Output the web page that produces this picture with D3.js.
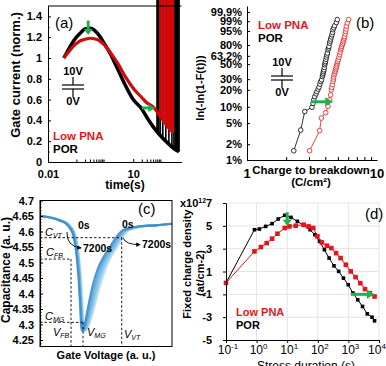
<!DOCTYPE html>
<html><head><meta charset="utf-8">
<script src="https://cdn.jsdelivr.net/npm/d3@7"></script>
<style>
body{margin:0;background:#fff}
svg{display:block}
text{font-family:"Liberation Sans",Arial,sans-serif}
.ax path,.ax line{stroke:#000;stroke-width:1}
.ax text{font-weight:bold;font-size:11px;fill:#000;font-family:"Liberation Sans",Arial,sans-serif}
</style></head>
<body><svg id="fig" width="386" height="366"></svg>
<script>
// ---------------- Panel (a): gate current vs time ----------------
const aTime = [0.036,0.05,0.07,0.1,0.15,0.2,0.3,0.5,0.7,1,1.5,2,3,5,10,20,30,50,100,200,300,410];
const aPOR  = [1.0,1.07,1.14,1.2,1.25,1.28,1.285,1.25,1.2,1.13,1.05,0.98,0.88,0.75,0.6,0.51,0.43,0.34,0.24,0.16,0.12,0.1];
const aLowTime = [0.036,0.05,0.07,0.1,0.15,0.2,0.3,0.5,0.7,1,1.5,2,3,5,10,20,30,50,100,200,255];
const aLow  = [1.0,1.05,1.1,1.14,1.17,1.18,1.19,1.18,1.16,1.12,1.06,1.01,0.94,0.83,0.71,0.62,0.57,0.53,0.42,0.31,0.28];
const aPORbreak = [69,72,76,80,90,110,140,180,230,270,300,330,360,390,410];
const aLowBreak = [87,95,103,112,122,133,145,158,172,187,204,222,242,255];
const aYTicks = [0,0.2,0.4,0.6,0.8,1,1.2,1.4];
const aYLabels = ["0","0.2","0.4","0.6","0.8","1","1.2","1.4"];
const aXTicks = [0.01,10];
const aXLabels = ["0.01","10"];

// ---------------- Panel (b): Weibull plot ----------------
const bPORq = [2.29,2.59,2.78,3.16,3.22,3.26,3.32,3.40,3.45,3.52,3.58,3.64,3.69,3.75,3.80,3.83,3.85,3.88,3.91,3.94,3.96,3.99,4.01,4.05,4.08,4.12,4.15,4.20,4.24,4.27,4.32,4.36,4.40,4.45,4.51,4.55,4.59,4.65,4.72,4.87,4.95];
const bPORf = [1.5,3.7,8.2,9.8,11.5,13.3,15.2,17,18.6,20.5,22.2,25,27.5,29.3,33,35,37.2,39.5,41.7,45,49,51.5,54,57.5,61.2,64.5,67.7,72.9,75.5,78,82.7,85.3,87.7,90,92.1,94,95.8,96.8,97.7,98.7,99.3];
const bLowQ = [3.03,3.62,3.73,4.03,4.20,4.32,4.40,4.45,4.49,4.53,4.59,4.62,4.64,4.68,4.72,4.77,4.81,4.84,4.87,4.91,4.95,4.99,5.04,5.10,5.16,5.21,5.26,5.31,5.35,5.41,5.47,5.51,5.55,5.60,5.64,5.69,5.74,5.78,5.81,5.91,6.05];
const bLowF = [1.5,3.6,6.2,7.8,10.1,13.3,16.3,19.9,22,24.3,27.5,30,32.3,35,37.2,39.5,41.7,44,46.4,49,51.6,54,56.8,61,64.9,69,72.9,75.5,78,80.5,82.7,85,86.9,88.8,90.5,92.8,94.7,96.2,97.5,98.6,99.3];
const bYTicks = [99.9,99,95,80,63.2,50,30,20,10,5,2,1];
const bYLabels = ["99,9%","99%","95%","80%","63,2%","50%","30%","20%","10%","5%","2%","1%"];

// ---------------- Panel (c): C-V curves ----------------
const cStress = ["0s","600s","1800s","3600s","7200s"];
const cLevels = [4.650,4.645,4.635,4.625,4.610,4.590,4.560,4.510,4.450,4.370,4.300,4.280,4.290,4.320,4.370,4.430,4.480,4.520,4.550,4.580,4.600,4.610,4.617,4.620,4.625];
const cV0    = [0,7.6,15.2,19.7,22.7,25.0,26.5,28.0,29.2,30.3,31.1,31.8,33.3,34.8,37.1,40.2,43.9,48.5,53.0,57.6,61.4,66.7,75.8,87.0,100];
const cV600  = [0,7.8,15.6,20.2,23.2,25.5,27.0,28.5,29.7,30.8,31.6,32.4,34.0,35.8,38.4,41.7,45.5,50.0,54.5,59.0,62.8,68.0,76.8,87.6,100];
const cV1800 = [0,8.0,16.0,20.7,23.7,26.0,27.5,29.0,30.2,31.3,32.1,33.0,34.8,36.8,39.7,43.2,47.0,51.5,56.0,60.3,64.0,69.2,77.6,88.1,100];
const cV3600 = [0,8.2,16.4,21.1,24.1,26.4,27.9,29.4,30.6,31.7,32.5,33.5,35.5,37.7,40.8,44.5,48.4,52.8,57.2,61.4,65.0,70.2,78.4,88.6,100];
const cV7200 = [0,8.4,16.8,21.5,24.5,26.8,28.3,29.8,31.0,32.1,33.0,34.0,36.3,38.7,42.0,45.8,49.7,54.0,58.3,62.4,66.0,71.2,79.2,89.0,100];
const cYTicks = [4.25,4.3,4.35,4.4,4.45,4.5,4.55,4.6,4.65,4.7];
const cYLabels = ["4.25","4.3","4.35","4.4","4.45","4.5","4.55","4.6","4.65","4.7"];
const cMarks = {VFB:23.5, CFB:4.511, VMG:32.6, CMG:4.307, VVT:61.9, CVT:4.58};

// ---------------- Panel (d): fixed charge density ----------------
const dPORt = [0.1,0.85,1.23,1.98,3.2,5.1,8.3,13.3,21.5,34.5,56,80,114,164,234,337,481,690,985,1410,2020,2890,4140,5920,7160];
const dPOR  = [0,4.66,4.72,4.95,5.19,5.6,5.92,5.74,5.39,5.04,4.66,4.22,3.64,2.91,2.18,1.5,1.01,0.42,-0.16,-0.89,-1.48,-2.06,-2.71,-3.0,-3.32];
const dLowt = [0.1,0.85,1.38,2.14,3.2,4.8,8.3,11.8,19,34.5,50,71,97,135,198,277,396,555,825,1190,1710,2450,3490,4980,7160];
const dLow  = [0,2.76,3.14,3.49,3.87,4.31,4.81,4.95,5.01,5.1,4.95,4.81,4.08,3.55,3.26,3.05,2.61,2.18,1.59,1.01,0.51,-0.02,-0.54,-0.89,-1.19];
const dYTicks = [-5,-3,-1,1,3,5,7];
const dYLabels = ["-5","-3","-1","1","3","5","7"];
const dXExp = [-1,0,1,2,3,4];

const RED = "#e3151b", GREEN = "#1fb04f";
const svg = d3.select("#fig");

function arrowH(g, x1, x2, y, w, hl, hw){
  const dir = x2 > x1 ? 1 : -1;
  g.append("line").attr("x1",x1).attr("x2",x2-dir*hl*0.8).attr("y1",y).attr("y2",y)
    .attr("stroke",GREEN).attr("stroke-width",w);
  g.append("path").attr("d",`M${x2},${y}L${x2-dir*hl},${y-hw}L${x2-dir*hl},${y+hw}Z`).attr("fill",GREEN);
}
function arrowV(g, x, y1, y2, w, hl, hw){
  g.append("line").attr("x1",x).attr("x2",x).attr("y1",y1).attr("y2",y2-hl*0.8)
    .attr("stroke",GREEN).attr("stroke-width",w);
  g.append("path").attr("d",`M${x},${y2}L${x-hw},${y2-hl}L${x+hw},${y2-hl}Z`).attr("fill",GREEN);
}
function capacitor(g, cx, yTop){
  g.append("text").attr("x",cx).attr("y",yTop).attr("text-anchor","middle")
    .attr("font-size",11).attr("font-weight","bold").text("10V");
  const l = (x1,y1,x2,y2)=>g.append("line").attr("x1",x1).attr("y1",y1).attr("x2",x2).attr("y2",y2).attr("stroke","#000").attr("stroke-width",1.2);
  l(cx,yTop+2,cx,yTop+10); l(cx-11,yTop+10,cx+11,yTop+10); l(cx-11,yTop+14,cx+11,yTop+14); l(cx,yTop+14,cx,yTop+22);
  g.append("text").attr("x",cx).attr("y",yTop+30).attr("text-anchor","middle")
    .attr("font-size",11).attr("font-weight","bold").text("0V");
}
function legend(g, x, y1, y2, fs){
  g.append("text").attr("x",x).attr("y",y1).attr("font-size",fs).attr("font-weight","bold").attr("fill",RED).text("Low PNA");
  g.append("text").attr("x",x).attr("y",y2).attr("font-size",fs).attr("font-weight","bold").attr("fill","#000").text("POR");
}
function panelLabel(g, x, y, s){
  g.append("text").attr("x",x).attr("y",y).attr("font-family","'Liberation Serif','Times New Roman',serif")
    .attr("font-size",15).text(s);
}

// ======== Panel (a) ========
{
  const g = svg.append("g");
  const x = d3.scaleLog().domain([0.01,500]).range([48,181.5]);
  const y = d3.scaleLinear().domain([0,1.5]).range([162,6]);
  const interp = (ts, vs, t) => {
    for (let i=1;i<ts.length;i++) if (t<=ts[i]) {
      const f=(Math.log(t)-Math.log(ts[i-1]))/(Math.log(ts[i])-Math.log(ts[i-1]));
      return vs[i-1]+f*(vs[i]-vs[i-1]);
    }
    return vs[vs.length-1];
  };
  const line = d3.line().x(d=>x(d[0])).y(d=>y(d[1])).curve(d3.curveMonotoneX);
  g.append("path").attr("d",line(aTime.map((t,i)=>[t,aPOR[i]]))).attr("fill","none").attr("stroke","#000").attr("stroke-width",3.5);
  aPORbreak.forEach(tb=>{
    g.append("line").attr("x1",x(tb)).attr("x2",x(tb)).attr("y1",y(interp(aTime,aPOR,tb))).attr("y2",0)
      .attr("stroke","#000").attr("stroke-width",1.6);
  });
  g.append("path").attr("d",line(aLowTime.map((t,i)=>[t,aLow[i]]))).attr("fill","none").attr("stroke","#d10a0a").attr("stroke-width",3.2);
  aLowBreak.forEach(tb=>{
    g.append("line").attr("x1",x(tb)).attr("x2",x(tb)).attr("y1",y(interp(aLowTime,aLow,tb))).attr("y2",0)
      .attr("stroke","#d10a0a").attr("stroke-width",1.6);
  });
  g.append("line").attr("x1",48).attr("x2",181.5).attr("y1",6).attr("y2",6).attr("stroke","#000");
  g.append("g").attr("class","ax").attr("transform","translate(48,0)")
    .call(d3.axisLeft(y).tickValues(aYTicks).tickFormat((d,i)=>aYLabels[i]).tickSize(-3).tickSizeOuter(0).tickPadding(6));
  g.append("g").attr("class","ax").attr("transform","translate(48,0)")
    .call(d3.axisLeft(y).tickValues(d3.range(0.1,1.5,0.2)).tickFormat("").tickSize(-1.5).tickSizeOuter(0));
  g.append("g").attr("class","ax").attr("transform","translate(0,162)")
    .call(d3.axisBottom(x).tickValues(aXTicks).tickFormat((d,i)=>aXLabels[i]).tickSize(-3).tickSizeOuter(0).tickPadding(8));
  g.append("g").attr("class","ax").attr("transform","translate(0,162)")
    .call(d3.axisBottom(x).tickValues([0.1,0.2,0.3,0.4,0.5,0.6,0.7,0.8,0.9,20,30,40,50,60,70,80,90]).tickFormat("").tickSize(-2.5).tickSizeOuter(0));
  g.append("text").attr("x",125).attr("y",189).attr("text-anchor","middle").attr("font-size",12).attr("font-weight","bold").text("time(s)");
  g.append("text").attr("transform","translate(15,75) rotate(-90)").attr("text-anchor","middle").attr("dominant-baseline","central")
    .attr("font-size",13).attr("font-weight","bold").text("Gate current (norm.)");
  panelLabel(g, 55, 28, "(a)");
  capacitor(g, 73, 75);
  legend(g, 53, 140, 153, 11.5);
  arrowV(g, x(0.26), y(1.36), y(1.22), 3, 6, 4.5);
  arrowH(g, x(20), x(60), y(0.52), 3, 7, 4);
}

// ======== Panel (b) ========
{
  const g = svg.append("g");
  const W = F => Math.log(-Math.log(1-F/100));
  const x = d3.scaleLog().domain([1,10]).range([247,377]);
  const y = d3.scaleLinear().domain([-4.6,2.2]).range([160,6]);
  const line = d3.line().x(d=>x(d[0])).y(d=>y(W(d[1])));
  const por = bPORq.map((q,i)=>[q,bPORf[i]]);
  const low = bLowQ.map((q,i)=>[q,bLowF[i]]);
  g.append("path").attr("d",line(por)).attr("fill","none").attr("stroke","#000").attr("stroke-width",0.8);
  g.append("path").attr("d",line(low)).attr("fill","none").attr("stroke",RED).attr("stroke-width",0.8);
  g.selectAll(".cp").data(por).join("circle").attr("cx",d=>x(d[0])).attr("cy",d=>y(W(d[1]))).attr("r",2.3)
    .attr("fill","#fff").attr("stroke","#000").attr("stroke-width",0.8);
  g.selectAll(".cl").data(low).join("circle").attr("cx",d=>x(d[0])).attr("cy",d=>y(W(d[1]))).attr("r",2.3)
    .attr("fill","#fff").attr("stroke",RED).attr("stroke-width",0.8);
  g.append("g").attr("class","ax").attr("transform","translate(247,0)")
    .call(d3.axisLeft(y).tickValues(bYTicks.map(W)).tickFormat((d,i)=>bYLabels[i]).tickSize(-3).tickSizeOuter(0).tickPadding(5))
    .call(s=>s.selectAll("text").attr("font-size",10.5));
  g.append("g").attr("class","ax").attr("transform","translate(0,160)")
    .call(d3.axisBottom(x).tickValues([2,3,4,5,6,7,8,9]).tickFormat("").tickSize(-3).tickSizeOuter(0));
  g.selectAll(".bx").data([1,10]).join("text").attr("x",d=>x(d)).attr("y",178).attr("text-anchor","middle")
    .attr("font-size",13).attr("font-weight","bold").text(d=>String(d));
  g.append("text").attr("x",311).attr("y",174).attr("text-anchor","middle").attr("font-size",11.5).attr("font-weight","bold").text("Charge to breakdown");
  g.append("text").attr("x",311).attr("y",186).attr("text-anchor","middle").attr("font-size",11.5).attr("font-weight","bold").text("(C/cm²)");
  g.append("text").attr("transform","translate(200,88) rotate(-90)").attr("text-anchor","middle").attr("dominant-baseline","central")
    .attr("font-size",11).attr("font-weight","bold").text("ln(-ln(1-F(t)))");
  panelLabel(g, 356, 28, "(b)");
  capacitor(g, 282, 66);
  legend(g, 258, 28.5, 41.5, 11.5);
  arrowH(g, x(3.1), x(4.6), y(W(12.3)), 3, 8, 4.5);
}

// ======== Panel (c) ========
{
  const g = svg.append("g");
  const x = d3.scaleLinear().domain([0,100]).range([40,172]);
  const y = d3.scaleLinear().domain([4.229,4.7]).range([346.5,200.5]);
  const line = d3.line().x(d=>x(d[0])).y(d=>y(d[1])).curve(d3.curveMonotoneX);
  const sets = [cV7200,cV3600,cV1800,cV600,cV0];
  const cols = ["#b8def4","#96cdee","#79bbe5","#5aa6da","#3c8ccb"];
  sets.forEach((vs,k)=>{
    g.append("path").attr("d",line(vs.map((v,i)=>[v,cLevels[i]]))).attr("fill","none")
      .attr("stroke",cols[k]).attr("stroke-width",2.2).attr("stroke-opacity",0.9);
  });
  const dash = (x1,y1,x2,y2)=>g.append("line").attr("x1",x1).attr("y1",y1).attr("x2",x2).attr("y2",y2)
    .attr("stroke","#000").attr("stroke-width",0.9).attr("stroke-dasharray","2.5,2");
  dash(x(0),y(cMarks.CVT),x(cMarks.VVT),y(cMarks.CVT)); dash(x(cMarks.VVT),y(cMarks.CVT),x(cMarks.VVT),346.5);
  dash(x(0),y(cMarks.CFB),x(cMarks.VFB),y(cMarks.CFB)); dash(x(cMarks.VFB),y(cMarks.CFB),x(cMarks.VFB),346.5);
  dash(x(0),y(cMarks.CMG),x(cMarks.VMG),y(cMarks.CMG)); dash(x(cMarks.VMG),y(cMarks.CMG),x(cMarks.VMG),346.5);
  g.append("rect").attr("x",40).attr("y",200.5).attr("width",132).attr("height",146).attr("fill","none").attr("stroke","#000");
  g.append("g").attr("class","ax").attr("transform","translate(40,0)")
    .call(d3.axisLeft(y).tickValues(cYTicks).tickFormat((d,i)=>cYLabels[i]).tickSize(-3).tickSizeOuter(0).tickPadding(6))
    .call(s=>s.selectAll("text").attr("font-size",10.5));
  g.append("g").attr("class","ax").attr("transform","translate(40,0)")
    .call(d3.axisLeft(y).tickValues(d3.range(4.23,4.7,0.01)).tickFormat("").tickSize(-1.5).tickSizeOuter(0));
  const serif = "'Liberation Serif','Times New Roman',serif";
  const sym = (xp, yp, main, sub) => {
    const t = g.append("text").attr("x",xp).attr("y",yp).attr("font-family",serif).attr("font-style","italic").attr("font-size",11);
    t.append("tspan").text(main);
    t.append("tspan").attr("dy",2).attr("font-size",7).text(sub);
  };
  sym(45,236,"C","VT"); sym(46,256,"C","FB"); sym(45,319.5,"C","MG");
  sym(53,336,"V","FB"); sym(87,336,"V","MG"); sym(124,338,"V","VT");
  const bt = (xp,yp,s)=>g.append("text").attr("x",xp).attr("y",yp).attr("font-size",10.5).attr("font-weight","bold").text(s);
  bt(78,229,"0s"); bt(122,228,"0s"); bt(83,252,"7200s"); bt(142,248,"7200s");
  svg.append("defs").append("marker").attr("id","ah").attr("viewBox","0 0 6 6").attr("refX",5).attr("refY",3)
    .attr("markerWidth",5).attr("markerHeight",5).attr("orient","auto")
    .append("path").attr("d","M0,0L6,3L0,6Z").attr("fill","#000");
  g.append("path").attr("d","M67,232 Q66,246 81,248").attr("fill","none").attr("stroke","#000").attr("stroke-width",0.9).attr("marker-end","url(#ah)");
  g.append("path").attr("d","M123,238 Q126,245 140,244.5").attr("fill","none").attr("stroke","#000").attr("stroke-width",0.9).attr("marker-end","url(#ah)");
  panelLabel(g, 138, 214, "(c)");
  g.append("text").attr("x",106).attr("y",359).attr("text-anchor","middle").attr("font-size",11).attr("font-weight","bold").text("Gate Voltage (a. u.)");
  g.append("text").attr("transform","translate(6,270) rotate(-90)").attr("text-anchor","middle").attr("dominant-baseline","central")
    .attr("font-size",12).attr("font-weight","bold").text("Capacitance (a. u.)");
}

// ======== Panel (d) ========
{
  const g = svg.append("g");
  const x = d3.scaleLog().domain([0.1,10000]).range([226,379]);
  const y = d3.scaleLinear().domain([-5,7]).range([340,203]);
  g.selectAll(".gv").data(dXExp.slice(1)).join("line").attr("x1",d=>x(Math.pow(10,d))).attr("x2",d=>x(Math.pow(10,d)))
    .attr("y1",203).attr("y2",340).attr("stroke","#dcdcdc").attr("stroke-width",0.8);
  g.selectAll(".gh").data(dYTicks.slice(1)).join("line").attr("x1",226).attr("x2",379)
    .attr("y1",d=>y(d)).attr("y2",d=>y(d)).attr("stroke","#dcdcdc").attr("stroke-width",0.8);
  const line = d3.line().x(d=>x(d[0])).y(d=>y(d[1]));
  const por = dPORt.map((t,i)=>[t,dPOR[i]]);
  const low = dLowt.map((t,i)=>[t,dLow[i]]);
  g.append("path").attr("d",line(por)).attr("fill","none").attr("stroke","#000").attr("stroke-width",1);
  g.append("path").attr("d",line(low)).attr("fill","none").attr("stroke",RED).attr("stroke-width",1);
  g.selectAll(".sp").data(por).join("rect").attr("x",d=>x(d[0])-1.8).attr("y",d=>y(d[1])-1.8).attr("width",3.6).attr("height",3.6).attr("fill","#000");
  g.selectAll(".sl").data(low).join("rect").attr("x",d=>x(d[0])-2.3).attr("y",d=>y(d[1])-2.3).attr("width",4.6).attr("height",4.6).attr("fill",RED);
  g.append("g").attr("class","ax").attr("transform","translate(226,0)")
    .call(d3.axisLeft(y).tickValues(dYTicks).tickFormat((d,i)=>dYLabels[i]).tickSize(3).tickSizeOuter(0).tickPadding(11));
  g.append("g").attr("class","ax").attr("transform","translate(0,340)")
    .call(d3.axisBottom(x).tickValues(dXExp.map(e=>Math.pow(10,e))).tickFormat("").tickSize(3).tickSizeOuter(0));
  dXExp.forEach(e=>{
    const xe = Math.min(x(Math.pow(10,e))+2, 377);
    const t = g.append("text").attr("x",xe).attr("y",354).attr("text-anchor","middle").attr("font-size",12);
    t.append("tspan").text("10");
    t.append("tspan").attr("dy",-5).attr("font-size",8).text(String(e));
  });
  g.append("text").attr("x",306).attr("y",370).attr("text-anchor","middle").attr("font-size",12).text("Stress duration (s)");
  const xt = g.append("text").attr("x",180).attr("y",207).attr("font-size",11).attr("font-weight","bold");
  xt.append("tspan").text("x10"); xt.append("tspan").attr("dy",-4).attr("font-size",7).text("12");
  g.append("text").attr("transform","translate(187,264) rotate(-90)").attr("text-anchor","middle").attr("dominant-baseline","central")
    .attr("font-size",11).attr("font-weight","bold").text("Fixed charge density");
  g.append("text").attr("transform","translate(200,273) rotate(-90)").attr("text-anchor","middle").attr("dominant-baseline","central")
    .attr("font-size",11).attr("font-weight","bold").text("(at/cm-2)");
  panelLabel(g, 365, 219, "(d)");
  legend(g, 236, 316, 329, 11);
  arrowV(g, x(10), y(6.2), y(5.0), 3, 6, 4.5);
  arrowH(g, x(1200), x(7300), y(-1), 3, 8, 4.5);
}
</script></body></html>
